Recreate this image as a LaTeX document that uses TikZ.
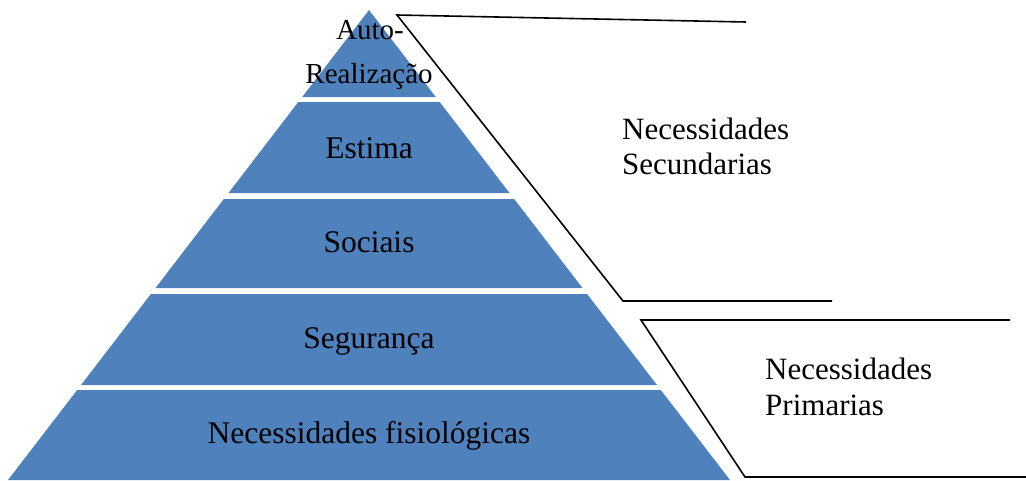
\documentclass[tikz,border=0pt]{standalone}
\usepackage{fontspec}
\setmainfont{Liberation Serif}
\definecolor{tierblue}{HTML}{4F81BD}
\begin{document}
\begin{tikzpicture}[x=1pt,y=-1pt,
  tier/.style={fill=tierblue,draw=none},
  lbl/.style={anchor=base,inner sep=0pt,font=\fontsize{31.5}{35}\selectfont,text=black},
  toplbl/.style={anchor=base,inner sep=0pt,font=\fontsize{29}{32}\selectfont,text=black},
  sidelbl/.style={anchor=base west,inner sep=0pt,font=\fontsize{31}{35}\selectfont,text=black},
  brace/.style={draw=black,line width=1.6pt,line join=miter}]
\useasboundingbox (0,0) rectangle (1026,480);
% tiers
\fill[tier] (369,10) -- (435.8,97) -- (302.2,97) -- cycle;
\fill[tier] (298.3,102) -- (439.7,102) -- (509.5,193) -- (228.5,193) -- cycle;
\fill[tier] (223.8,199) -- (514.2,199) -- (582.5,288) -- (155.5,288) -- cycle;
\fill[tier] (150.9,294) -- (587.1,294) -- (657,385) -- (81,385) -- cycle;
\fill[tier] (77.2,390) -- (660.8,390) -- (730,480) -- (8,480) -- cycle;
% tier labels
\node[toplbl] (auto) at (370,39) {Auto-};
\node[toplbl] (real) at (369,83) {Realização};
\node[lbl] (estima) at (369,158) {Estima};
\node[lbl] (sociais) at (369,252) {Sociais};
\node[lbl] (seg) at (369,348) {Segurança};
\node[lbl] (fisio) at (369,443) {Necessidades fisiológicas};
% side labels
\node[sidelbl] (sec1) at (622,139) {Necessidades};
\node[sidelbl] (sec2) at (622,174) {Secundarias};
\node[sidelbl] (pri1) at (765,379) {Necessidades};
\node[sidelbl] (pri2) at (765,415) {Primarias};
% bracket lines
\coordinate (a1) at (746,22);
\coordinate (a2) at (397,15);
\coordinate (a3) at (623,301);
\coordinate (a4) at (832,301);
\draw[brace] (a1) -- (a2) -- (a3) -- (a4);
\coordinate (b1) at (1010,320);
\coordinate (b2) at (641,320);
\coordinate (b3) at (745,477);
\coordinate (b4) at (1026,477);
\draw[brace] (b1) -- (b2) -- (b3) -- (b4);
\end{tikzpicture}
\end{document}
